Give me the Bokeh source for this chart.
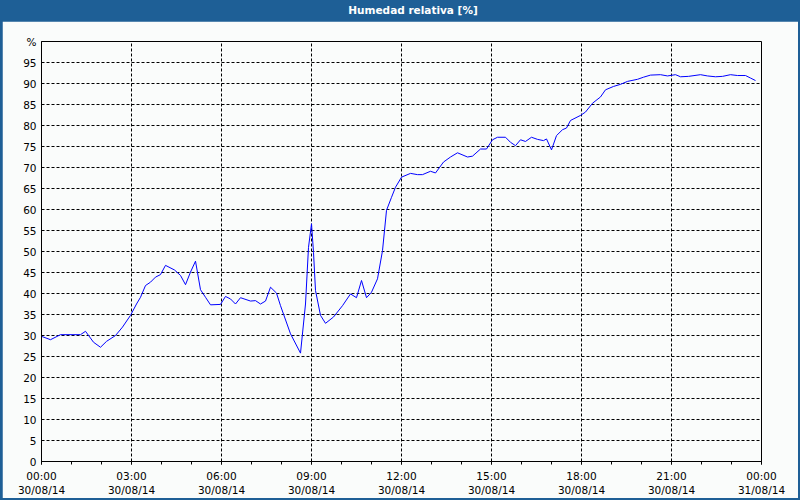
from bokeh.plotting import figure
from bokeh.models import Div, FixedTicker, Range1d
from bokeh.layouts import column
from bokeh.embed import file_html
from bokeh.resources import INLINE

TITLE = "Humedad relativa [%]"

# minutes since 30/08/14 00:00
minutes = [0, 18, 38, 78, 88, 104, 118, 130, 148, 162, 178, 190, 198, 208, 218, 228, 238, 248,
           266, 278, 288, 298, 308, 318, 328, 338, 358, 368, 378, 388, 398, 418, 428, 438, 448,
           458, 470, 478, 498, 518, 528, 534, 540, 544, 548, 558, 568, 584, 602, 618, 630, 640,
           650, 660, 672, 682, 690, 700, 708, 720, 738, 752, 762, 778, 788, 804, 818, 832, 852,
           862, 878, 890, 902, 912, 928, 938, 948, 958, 968, 980, 992, 1004, 1010, 1020, 1030,
           1042, 1050, 1058, 1078, 1088, 1102, 1118, 1128, 1144, 1158, 1172, 1192, 1204, 1218,
           1238, 1252, 1268, 1278, 1294, 1318, 1332, 1348, 1362, 1378, 1392, 1408, 1418, 1428]
humidity = [29.8, 29.0, 30.2, 30.2, 31.0, 28.4, 27.2, 28.6, 30.0, 32.0, 34.8, 37.5, 39.1, 41.9,
            42.7, 43.9, 44.5, 46.7, 45.6, 44.3, 42.1, 45.1, 47.7, 40.9, 39.1, 37.3, 37.4, 39.3,
            38.7, 37.5, 39.0, 38.2, 38.3, 37.5, 38.2, 41.5, 40.1, 37.1, 30.4, 25.8, 37.5, 51.0,
            56.6, 49.8, 40.7, 34.8, 32.9, 34.4, 37.1, 39.9, 39.0, 43.1, 39.0, 40.3, 43.5, 50.2,
            59.8, 62.9, 65.3, 67.7, 68.6, 68.3, 68.3, 69.1, 68.7, 71.3, 72.5, 73.5, 72.5, 72.7,
            74.4, 74.4, 76.6, 77.2, 77.2, 76.0, 75.2, 76.6, 76.2, 77.2, 76.7, 76.4, 76.8, 74.2,
            77.6, 79.0, 79.4, 81.2, 82.4, 83.2, 85.3, 86.8, 88.5, 89.3, 89.8, 90.5, 91.0, 91.5,
            92.0, 92.1, 91.8, 92.1, 91.6, 91.7, 92.1, 91.8, 91.6, 91.7, 92.1, 91.9, 91.9, 91.3,
            90.7]

x_ticks = [0, 180, 360, 540, 720, 900, 1080, 1260, 1440]
x_tick_labels = ["00:00\n30/08/14", "03:00\n30/08/14", "06:00\n30/08/14", "09:00\n30/08/14",
                 "12:00\n30/08/14", "15:00\n30/08/14", "18:00\n30/08/14", "21:00\n30/08/14",
                 "00:00\n31/08/14"]
x_minor = [60 * h for h in range(25)]
y_ticks = list(range(0, 101, 5))
y_tick_labels = [str(v) for v in range(0, 100, 5)] + ["%"]

FONT = "DejaVu Sans"
BG = "#fafcfb"
BLUE_BAR = "#1e5f96"

p = figure(frame_width=720, frame_height=420, output_backend="svg", toolbar_location=None,
           x_range=Range1d(0, 1440), y_range=Range1d(0, 100),
           min_border_left=39, min_border_right=37, min_border_top=20, min_border_bottom=37,
           background_fill_color=BG, border_fill_color=BG, margin=(0, 2, 2, 2))
p.outline_line_color = "black"
p.outline_line_width = 1

p.line(minutes, humidity, line_color="#0000ff", line_width=1)

xa = p.xaxis[0]
xa.ticker = FixedTicker(ticks=x_ticks, minor_ticks=x_minor)
xa.major_label_overrides = {t: l for t, l in zip(x_ticks, x_tick_labels)}
xa.major_tick_out = 3
xa.major_tick_in = 0
xa.minor_tick_out = 3
xa.minor_tick_in = 0
xa.major_label_standoff = 5
xa.major_label_text_font = FONT
xa.major_label_text_font_size = "10.5px"
xa.major_label_text_color = "black"
xa.axis_line_color = "black"
xa.major_tick_line_color = "black"
xa.minor_tick_line_color = "black"

ya = p.yaxis[0]
ya.ticker = FixedTicker(ticks=y_ticks)
ya.major_label_overrides = {t: l for t, l in zip(y_ticks, y_tick_labels)}
ya.major_tick_out = 0
ya.major_tick_in = 0
ya.minor_tick_out = 0
ya.minor_tick_in = 0
ya.major_label_standoff = 5
ya.major_label_text_font = FONT
ya.major_label_text_font_size = "10.5px"
ya.major_label_text_color = "black"
ya.axis_line_color = "black"

for g in (p.xgrid[0], p.ygrid[0]):
    g.grid_line_color = "black"
    g.grid_line_dash = "3 2"
    g.grid_line_width = 1
    g.grid_line_alpha = 1.0

title = Div(text=TITLE, width=800, height=21, margin=0,
            styles={"background-color": BLUE_BAR, "color": "white", "font-family": FONT,
                    "font-weight": "bold", "font-size": "10.5px", "text-align": "center",
                    "line-height": "21px", "text-indent": "26px"})

layout = column(title, p, spacing=0, margin=0, styles={"background-color": BLUE_BAR})

open("out.html", "w").write(file_html(layout, INLINE))
